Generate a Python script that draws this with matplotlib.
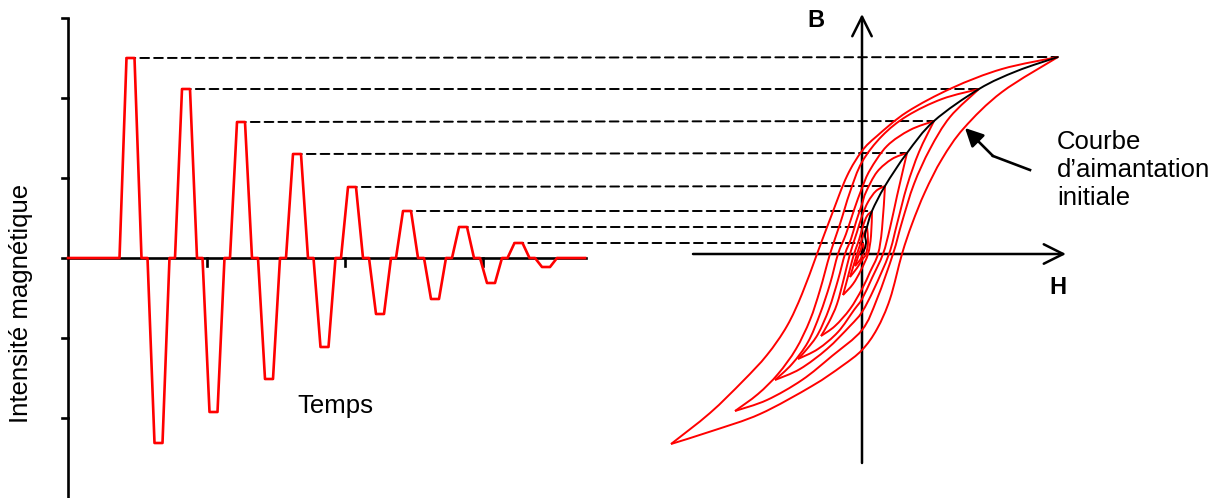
import numpy as np
import matplotlib.pyplot as plt
from matplotlib.path import Path
from matplotlib.patches import PathPatch, ConnectionPatch

plt.rcParams["font.family"] = ["Liberation Sans", "DejaVu Sans"]

# damped pulse train: time of each plateau centre and its intensity
peak_t = [62.5, 118, 173, 229, 284, 339, 395, 450.5]
peak_amp = [200, 169, 136, 104, 71, 47, 31, 15]
trough_t = [90.5, 145.5, 201, 256.5, 312, 367, 423, 478]
trough_amp = [-185, -154, -121, -89, -56, -41, -25, -9]
t_end = 517
amp_ticks = [240, 160, 80, 0, -80, -160]
t_ticks = [139, 277, 415]

# hysteresis loops (H, B): upper (descending) and lower (ascending) branches
tips_h = [196, 117, 72, 45, 23, 10, 5, 1]
tips_b = [197, 165, 133, 101, 68, 43, 27, 11]
loop_upper = [
    [(196, 197), (140, 185), (90, 166), (45, 142), (15, 118), (0, 103), (-15, 78), (-30, 40), (-45, 0),
     (-60, -40), (-75, -72), (-95, -101), (-119, -127), (-152, -159), (-191, -190)],
    [(117, 165), (80, 155), (45, 138), (20, 118), (0, 92), (-12, 62), (-22, 30), (-32, 0), (-42, -36),
     (-52, -66), (-66, -95), (-84, -120), (-104, -140), (-127, -157)],
    [(72, 133), (48, 124), (25, 108), (8, 84), (0, 66), (-8, 44), (-16, 20), (-24, 0), (-32, -30),
     (-42, -60), (-54, -88), (-70, -110), (-87, -126)],
    [(45, 101), (30, 95), (15, 82), (4, 62), (0, 50), (-6, 32), (-11, 15), (-17, 0), (-24, -26),
     (-33, -55), (-44, -80), (-55, -95), (-64, -105)],
    [(23, 68), (14, 63), (6, 52), (0, 38), (-5, 22), (-12, 0), (-18, -24), (-25, -50), (-33, -68), (-41, -82)],
    [(10, 43), (5, 38), (1, 28), (-3, 14), (-8, 0), (-12, -15), (-16, -30), (-19, -41)],
    [(5, 27), (1, 18), (-2, 9), (-5, 0), (-8, -10), (-12, -23)],
    [(1, 11), (-1, 5), (-3, 0), (-5, -6), (-7, -12)],
]
loop_lower = [
    [(-191, -190), (-150, -177), (-102, -160), (-50, -132), (-20, -112), (0, -96), (15, -75), (28, -45),
     (40, 0), (50, 30), (63, 62), (80, 95), (102, 126), (140, 162), (196, 197)],
    [(-127, -157), (-95, -146), (-60, -126), (-30, -102), (0, -76), (15, -45), (31, 0), (40, 32), (52, 70),
     (68, 105), (88, 137), (117, 165)],
    [(-87, -126), (-62, -115), (-35, -95), (-12, -72), (0, -58), (12, -35), (27, 0), (35, 30), (45, 68),
     (57, 102), (72, 133)],
    [(-64, -105), (-44, -95), (-24, -78), (-8, -56), (0, -45), (10, -24), (21, 0), (28, 26), (35, 58), (45, 101)],
    [(-41, -82), (-27, -72), (-12, -55), (0, -35), (8, -18), (16, 0), (20, 25), (23, 68)],
    [(-19, -41), (-9, -30), (-1, -16), (6, 0), (9, 18), (10, 43)],
    [(-12, -23), (-5, -14), (0, -6), (4, 0), (6, 12), (5, 27)],
    [(-7, -12), (-2, -6), (1, 0), (2, 5), (1, 11)],
]
initial_curve = [(0, 0), (3, 6), (4, 12), (3, 19), (5, 27), (10, 43), (23, 68), (45, 101), (72, 133),
                 (117, 165), (155, 183), (196, 197)]


def smooth_path(pts):
    # Catmull-Rom through the read points, drawn as cubic Bezier segments
    p = np.asarray(pts, float)
    ext = np.vstack([p[0], p, p[-1]])
    verts = [p[0]]
    codes = [Path.MOVETO]
    for i in range(len(p) - 1):
        c1 = ext[i + 1] + (ext[i + 2] - ext[i]) / 6
        c2 = ext[i + 2] - (ext[i + 3] - ext[i + 1]) / 6
        verts += [c1, c2, ext[i + 2]]
        codes += [Path.CURVE4] * 3
    return Path(verts, codes)


fig = plt.figure(figsize=(12.27, 4.98), dpi=100)
ax = fig.add_axes([0, 0, 1, 1])
ax.set_xlim(-68, 1159)
ax.set_ylim(-240, 258)
ax.axis("off")

ax2 = fig.add_axes([0, 0, 1, 1], facecolor="none")
ax2.set_xlim(-862, 365)
ax2.set_ylim(-244, 254)
ax2.axis("off")

# left: signal
ax.plot([0, 0], [240, -240], color="black", lw=1.9, solid_capstyle="butt")
for v in amp_ticks:
    ax.plot([-6, 0], [v, v], color="black", lw=1.9)
ax.plot([0, t_end + 1], [0, 0], color="black", lw=1.9)
for t in t_ticks:
    ax.plot([t, t], [0, -8], color="black", lw=1.9)

pulses = sorted(zip(peak_t + trough_t, peak_amp + trough_amp))
sig_t, sig_v = [0], [0]
for c, a in pulses:
    sig_t += [c - 11, c - 4, c + 4, c + 11]
    sig_v += [0, a, a, 0]
sig_t.append(t_end)
sig_v.append(0)
ax.plot(sig_t, sig_v, color="red", lw=1.9, zorder=5)

ax.text(-47, -45, "Intensité magnétique", rotation=90, ha="center", va="center", fontsize=18.5)
ax.text(267, -148, "Temps", ha="center", va="center", fontsize=18.5)

# dashed guides from each peak to its loop tip
for t, a, h, b in zip(peak_t, peak_amp, tips_h, tips_b):
    con = ConnectionPatch(xyA=(t - 4, a), xyB=(h, b), coordsA="data", coordsB="data",
                          axesA=ax, axesB=ax2, color="black", lw=1.4, linestyle=(0, (4.5, 2.6)))
    con.set_zorder(1)
    ax.add_artist(con)

# right: hysteresis
ax2.annotate("", xy=(0, 240), xytext=(0, -209),
             arrowprops=dict(arrowstyle="->,head_length=1.4,head_width=0.7", lw=1.8, color="black",
                             shrinkA=0, shrinkB=0, mutation_scale=10))
ax2.annotate("", xy=(204, 0), xytext=(-169, 0),
             arrowprops=dict(arrowstyle="->,head_length=1.4,head_width=0.7", lw=1.8, color="black",
                             shrinkA=0, shrinkB=0, mutation_scale=10))

for branch in loop_upper + loop_lower:
    ax2.add_patch(PathPatch(smooth_path(branch), fill=False, edgecolor="red", lw=1.4, zorder=3))
ax2.add_patch(PathPatch(smooth_path(initial_curve), fill=False, edgecolor="black", lw=1.4, zorder=4))

ax2.text(-46, 234, "B", ha="center", va="center", fontsize=17, fontweight="bold")
ax2.text(196, -33, "H", ha="center", va="center", fontsize=17, fontweight="bold")
ax2.text(195, 124, "Courbe\nd’aimantation\ninitiale", ha="left", va="top", fontsize=18.5, linespacing=1.2)

ax2.plot([168, 131], [84, 98], color="black", lw=1.9)
ax2.annotate("", xy=(103, 126), xytext=(131, 98),
             arrowprops=dict(arrowstyle="-|>,head_length=1.1,head_width=0.55", lw=1.9, color="black",
                             shrinkA=0, shrinkB=0, mutation_scale=10))

fig.savefig("out.png", dpi=100)
